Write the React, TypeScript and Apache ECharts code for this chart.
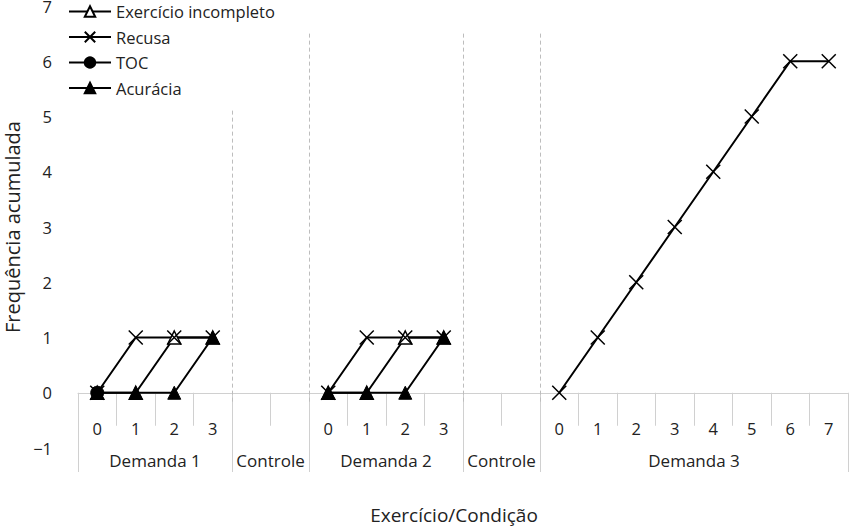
import React, { useEffect, useRef } from "react";
import * as echarts from "echarts";

const categories = ["0", "1", "2", "3", "", "", "0", "1", "2", "3", "", "", "0", "1", "2", "3", "4", "5", "6", "7"];
const groupNames = ["Demanda 1", "Controle", "Demanda 2", "Controle", "Demanda 3"];
const groupSizes = [4, 2, 4, 2, 8];

const exercicioIncompleto = [0, 0, 1, 1, null, null, 0, 0, 1, 1, null, null, null, null, null, null, null, null, null, null];
const recusa = [0, 1, 1, 1, null, null, 0, 1, 1, 1, null, null, 0, 1, 2, 3, 4, 5, 6, 6];
const toc = [0, null, null, null, null, null, null, null, null, null, null, null, null, null, null, null, null, null, null, null];
const acuracia = [0, 0, 0, 1, null, null, 0, 0, 0, 1, null, null, null, null, null, null, null, null, null, null];

const FONT = "Open Sans";
const TXT = "#222";
const GRID_LINE = "#d0d0d0";
const X_PATH = "path://M0,0L10,10M10,0L0,10";

export default function App() {
  const ref = useRef<HTMLDivElement>(null);
  useEffect(() => {
    document.body.style.margin = "0";
    if (!ref.current) return;
    const chart = echarts.init(ref.current, undefined, { renderer: "svg" });

    const bounds: number[] = [0];
    groupSizes.forEach((s) => bounds.push(bounds[bounds.length - 1] + s));
    const centers: Record<number, string> = {};
    groupNames.forEach((n, i) => {
      centers[(bounds[i] + bounds[i + 1]) / 2] = n;
    });
    const inner = bounds.slice(1, bounds.length - 1);
    const startIdx = bounds.slice(0, bounds.length - 1);

    const lineBase = {
      type: "line" as const,
      xAxisIndex: 0,
      yAxisIndex: 0,
      connectNulls: false,
      symbolSize: 13,
      z: 3,
      lineStyle: { color: "#000", width: 2 },
    };

    chart.setOption({
      animation: false,
      textStyle: { fontFamily: FONT, color: TXT },
      grid: { left: 78, right: 2, top: 6, bottom: 80, containLabel: false, outerBoundsMode: "none" },
      legend: {
        data: ["Exercício incompleto", "Recusa", "TOC", "Acurácia"],
        orient: "vertical",
        left: 64,
        top: 1,
        z: 20,
        itemWidth: 42,
        itemHeight: 13,
        itemGap: 8.5,
        padding: [2, 8, 12, 4],
        backgroundColor: "#fff",
        textStyle: { fontFamily: FONT, fontSize: 16.5, color: TXT },
      },
      xAxis: [
        {
          type: "category",
          data: categories,
          position: "bottom",
          offset: -44,
          boundaryGap: true,
          axisLine: { show: true, lineStyle: { color: GRID_LINE, width: 1 } },
          axisTick: { show: true, interval: 0, length: 33, lineStyle: { color: GRID_LINE, width: 1 } },
          axisLabel: { interval: 0, margin: 16, fontSize: 16.5, color: TXT, fontFamily: FONT },
          splitLine: { show: false },
        },
        {
          type: "category",
          data: categories,
          position: "bottom",
          offset: -44,
          boundaryGap: true,
          axisLine: { show: false },
          axisTick: {
            show: true,
            interval: (i: number) => startIdx.includes(i),
            length: 68,
            lineStyle: { color: GRID_LINE, width: 1 },
          },
          axisLabel: { show: false },
          splitLine: { show: false },
        },
        {
          type: "value",
          position: "bottom",
          offset: -44,
          min: 0,
          max: categories.length,
          interval: 1,
          axisLine: { show: false },
          axisTick: { show: false },
          splitLine: { show: false },
          axisLabel: {
            margin: 48,
            fontSize: 17,
            color: TXT,
            fontFamily: FONT,
            showMinLabel: true,
            showMaxLabel: true,
            formatter: (v: number) => centers[v] || "",
          },
        },
      ],
      yAxis: {
        type: "value",
        min: -1,
        max: 7,
        interval: 1,
        name: "Frequência acumulada",
        nameLocation: "middle",
        nameGap: 55,
        nameRotate: 90,
        nameTextStyle: { fontSize: 20, color: TXT, fontFamily: FONT },
        axisLine: { show: false },
        axisTick: { show: false },
        splitLine: { show: false },
        axisLabel: {
          margin: 26,
          fontSize: 16.5,
          color: TXT,
          fontFamily: FONT,
          formatter: (v: number) => (v < 0 ? "\u2212" + Math.abs(v) : String(v)),
        },
      },
      graphic: [
        {
          type: "text",
          x: 454,
          y: 515,
          style: {
            text: "Exercício/Condição",
            textAlign: "center",
            textVerticalAlign: "middle",
            fontSize: 19,
            fontFamily: FONT,
            fill: TXT,
          },
        },
      ],
      series: [
        {
          type: "line",
          name: "",
          xAxisIndex: 2,
          yAxisIndex: 0,
          data: [],
          silent: true,
          z: 1,
          markLine: {
            silent: true,
            z: 1,
            symbol: "none",
            label: { show: false },
            lineStyle: { type: [4, 3], color: "#bdbdbd", width: 1 },
            data: inner.map((b) => [{ coord: [b, 6.5] }, { coord: [b, -0.2] }]),
          },
        },
        {
          ...lineBase,
          name: "Exercício incompleto",
          data: exercicioIncompleto,
          symbol: "triangle",
          itemStyle: { color: "#fff", borderColor: "#000", borderWidth: 1.5 },
        },
        {
          ...lineBase,
          name: "Recusa",
          data: recusa,
          symbol: X_PATH,
          symbolSize: 14,
          itemStyle: { color: "#000", borderColor: "#000", borderWidth: 1.5 },
        },
        {
          ...lineBase,
          name: "Acurácia",
          data: acuracia,
          symbol: "triangle",
          itemStyle: { color: "#000", borderColor: "#000", borderWidth: 1 },
        },
        {
          ...lineBase,
          name: "TOC",
          data: toc,
          symbol: "circle",
          itemStyle: { color: "#000", borderColor: "#000", borderWidth: 1 },
        },
      ],
    });
    return () => chart.dispose();
  }, []);
  return <div ref={ref} style={{ width: 850, height: 528 }} />;
}
